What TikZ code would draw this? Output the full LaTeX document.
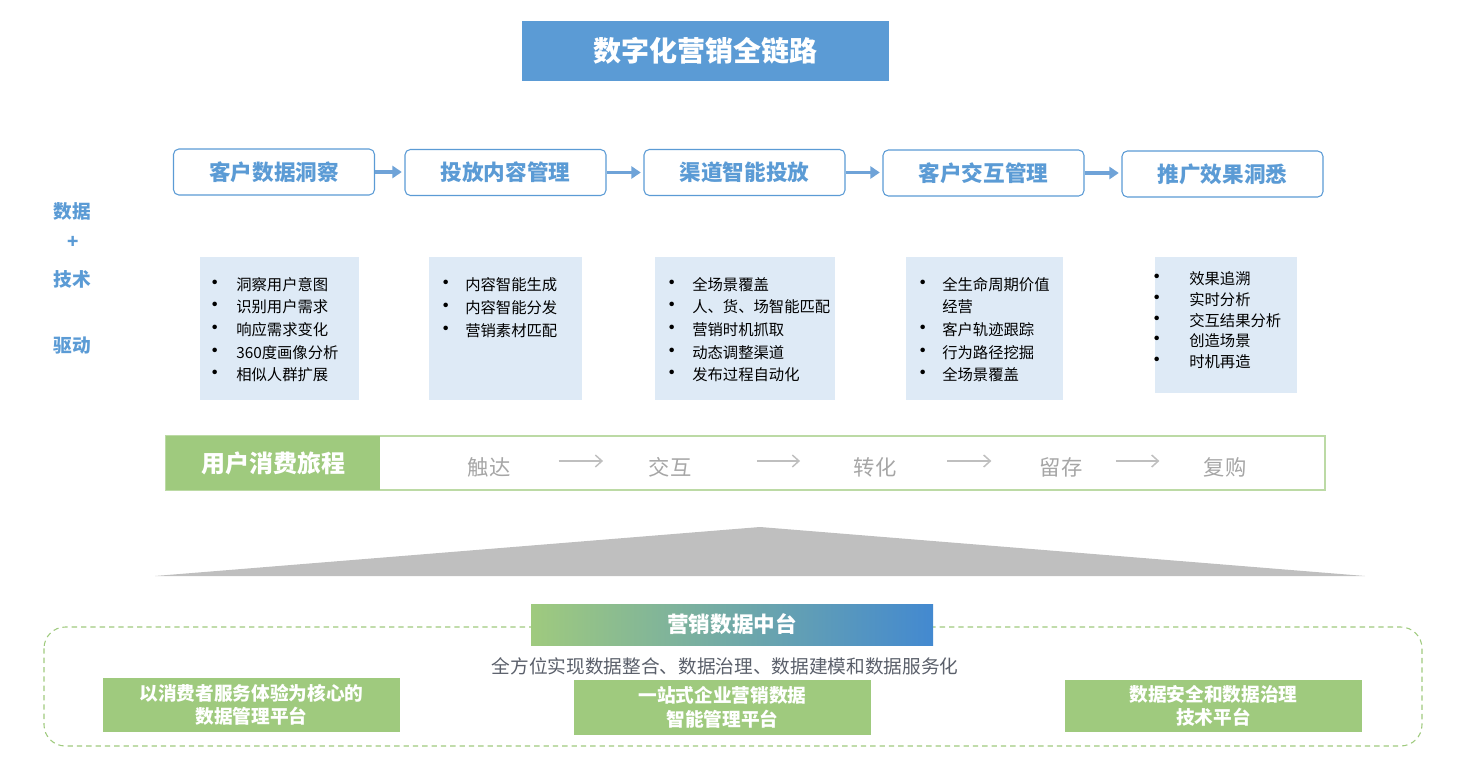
\documentclass[tikz,border=0pt]{standalone}
\usepackage{fontspec}
\setmainfont{Noto Sans CJK SC}
\usetikzlibrary{arrows.meta}
\definecolor{mblue}{HTML}{5B9BD5}
\definecolor{arrblue}{HTML}{6FA3D8}
\definecolor{lblue}{HTML}{DEEAF6}
\definecolor{mgreen}{HTML}{9FCA7E}
\definecolor{gblue}{HTML}{4389D0}
\definecolor{tgray}{HTML}{A6A6A6}
\definecolor{agray}{HTML}{BFBFBF}
\definecolor{subgray}{HTML}{5A5F6A}
\newcommand{\pxu}{0.75pt}
\newcommand{\fs}[2]{\fontsize{#1}{#2}\selectfont}
\newcommand{\bl}{\makebox[0pt]{\fontsize{16}{16}\selectfont •}}
\tikzset{
  titlebox/.style={fill=mblue, text=white, font=\fs{21}{25}\bfseries, minimum width=367*\pxu, minimum height=60*\pxu, inner sep=0},
  stepbox/.style={draw=mblue, line width=0.8pt, rounded corners=4pt, fill=white, text=mblue, font=\fs{16.2}{19}\bfseries, minimum width=201*\pxu, minimum height=46*\pxu, inner sep=0},
  steparrow/.style={draw=arrblue, line width=2.4pt, -{Triangle[length=7pt,width=9pt]}, shorten >=2pt},
  sidelabel/.style={text=mblue, font=\fs{14}{17}\bfseries, inner sep=0},
  bulletbox/.style={fill=lblue, inner sep=0},
  bullettext/.style={anchor=west, inner sep=0, text=black},
  stagetext/.style={text=tgray, font=\fs{16}{19}, inner sep=0},
  stagearrow/.style={draw=agray, line width=1.1pt, -{Straight Barb[length=5pt,width=9pt]}},
  greenbox/.style={fill=mgreen, text=white, font=\fs{14}{17.5}\bfseries, align=center, inner sep=0},
}
\begin{document}
\begin{tikzpicture}[x=0.75pt,y=-0.75pt]
\useasboundingbox (0,0) rectangle (1464,767);

% title
\node[titlebox] (title) at (705.5,51) {数字化营销全链路};

% steps
\node[stepbox] (s1) at (274,172) {客户数据洞察};
\node[stepbox] (s2) at (505.5,172.5) {投放内容管理};
\node[stepbox] (s3) at (744.5,172.5) {渠道智能投放};
\node[stepbox] (s4) at (983.5,173) {客户交互管理};
\node[stepbox] (s5) at (1222.5,174) {推广效果洞悉};
\draw[steparrow] (s1.east) -- (s2.west |- s1.east);
\draw[steparrow] (s2.east) -- (s3.west |- s2.east);
\draw[steparrow] (s3.east) -- (s4.west |- s3.east);
\draw[steparrow] (s4.east) -- (s5.west |- s4.east);

% side labels
\node[sidelabel] (l1) at (72,211) {数据};
\node[sidelabel] (l2) at (73,242) {+};
\node[sidelabel] (l3) at (72,279) {技术};
\node[sidelabel] (l4) at (72,346) {驱动};

% bullet boxes
\node[bulletbox, minimum width=159*\pxu, minimum height=143*\pxu] (b1) at (279.5,328.5) {};
\node[bulletbox, minimum width=153*\pxu, minimum height=143*\pxu] (b2) at (505.5,328.5) {};
\node[bulletbox, minimum width=180*\pxu, minimum height=143*\pxu] (b3) at (745,328.5) {};
\node[bulletbox, minimum width=157*\pxu, minimum height=143*\pxu] (b4) at (984.5,328.5) {};
\node[bulletbox, minimum width=142*\pxu, minimum height=136*\pxu] (b5) at (1226,325) {};

\node[bullettext] (t1) at (215,331) {\fs{11.5}{17}\begin{tabular}{@{}l@{\hspace{15.75pt}}l@{}}
\bl & 洞察用户意图\\ \bl & 识别用户需求\\ \bl & 响应需求变化\\ \bl & 360度画像分析\\ \bl & 相似人群扩展\end{tabular}};
\node[bullettext] (t2) at (446,309) {\fs{11.5}{17}\begin{tabular}{@{}l@{\hspace{14.25pt}}l@{}}
\bl & 内容智能生成\\ \bl & 内容智能分发\\ \bl & 营销素材匹配\end{tabular}};
\node[bullettext] (t3) at (672,331) {\fs{11.5}{17}\begin{tabular}{@{}l@{\hspace{15pt}}l@{}}
\bl & 全场景覆盖\\ \bl & 人、货、场智能匹配\\ \bl & 营销时机抓取\\ \bl & 动态调整渠道\\ \bl & 发布过程自动化\end{tabular}};
\node[bullettext] (t4) at (923,331) {\fs{11.5}{17}\begin{tabular}{@{}l@{\hspace{14.25pt}}l@{}}
\bl & 全生命周期价值\\ & 经营\\ \bl & 客户轨迹跟踪\\ \bl & 行为路径挖掘\\ \bl & 全场景覆盖\end{tabular}};
\node[bullettext] (t5) at (1157,322) {\fs{11.5}{15.5}\begin{tabular}{@{}l@{\hspace{24pt}}l@{}}
\bl & 效果追溯\\ \bl & 实时分析\\ \bl & 交互结果分析\\ \bl & 创造场景\\ \bl & 时机再造\end{tabular}};

% journey bar
\draw[mgreen!70!white, line width=0.8pt] (166,436) rectangle (1325,490);
\node[fill=mgreen, text=white, font=\fs{18}{21}\bfseries, minimum width=214*\pxu, minimum height=54*\pxu, inner sep=0] (jr) at (273,463) {用户消费旅程};
\node[stagetext] (j1) at (489,467) {触达};
\node[stagetext] (j2) at (670,467) {交互};
\node[stagetext] (j3) at (875,467) {转化};
\node[stagetext] (j4) at (1061,467) {留存};
\node[stagetext] (j5) at (1225,467) {复购};
\draw[stagearrow, shorten <=36pt, shorten >=34pt] (j1.east |- 0,461) -- (j2.west |- 0,461);
\draw[stagearrow, shorten <=49pt, shorten >=40pt] (j2.east |- 0,461) -- (j3.west |- 0,461);
\draw[stagearrow, shorten <=38pt, shorten >=36pt] (j3.east |- 0,461) -- (j4.west |- 0,461);
\draw[stagearrow, shorten <=25pt, shorten >=33pt] (j4.east |- 0,461) -- (j5.west |- 0,461);

% gray triangle
\fill[agray] (155,576) -- (760,527) -- (1365,576) -- cycle;

% platform
\draw[mgreen, dashed, line width=0.8pt, dash pattern=on 4pt off 3pt, rounded corners=16pt] (44,627) rectangle (1422,746);
\node[left color=mgreen, right color=gblue, text=white, font=\fs{16.2}{19}\bfseries, minimum width=402*\pxu, minimum height=41*\pxu, inner sep=0] (mid) at (732,624.5) {营销数据中台};
\node[text=subgray, font=\fs{14}{17}, inner sep=0] (sub) at (725,666) {全方位实现数据整合、数据治理、数据建模和数据服务化};
\node[greenbox, minimum width=297*\pxu, minimum height=54*\pxu] (pA) at (251.5,705) {以消费者服务体验为核心的\\数据管理平台};
\node[greenbox, minimum width=297*\pxu, minimum height=55*\pxu] (pB) at (722.5,707.5) {一站式企业营销数据\\智能管理平台};
\node[greenbox, minimum width=297*\pxu, minimum height=52*\pxu] (pC) at (1213.5,706) {数据安全和数据治理\\技术平台};
\end{tikzpicture}
\end{document}
